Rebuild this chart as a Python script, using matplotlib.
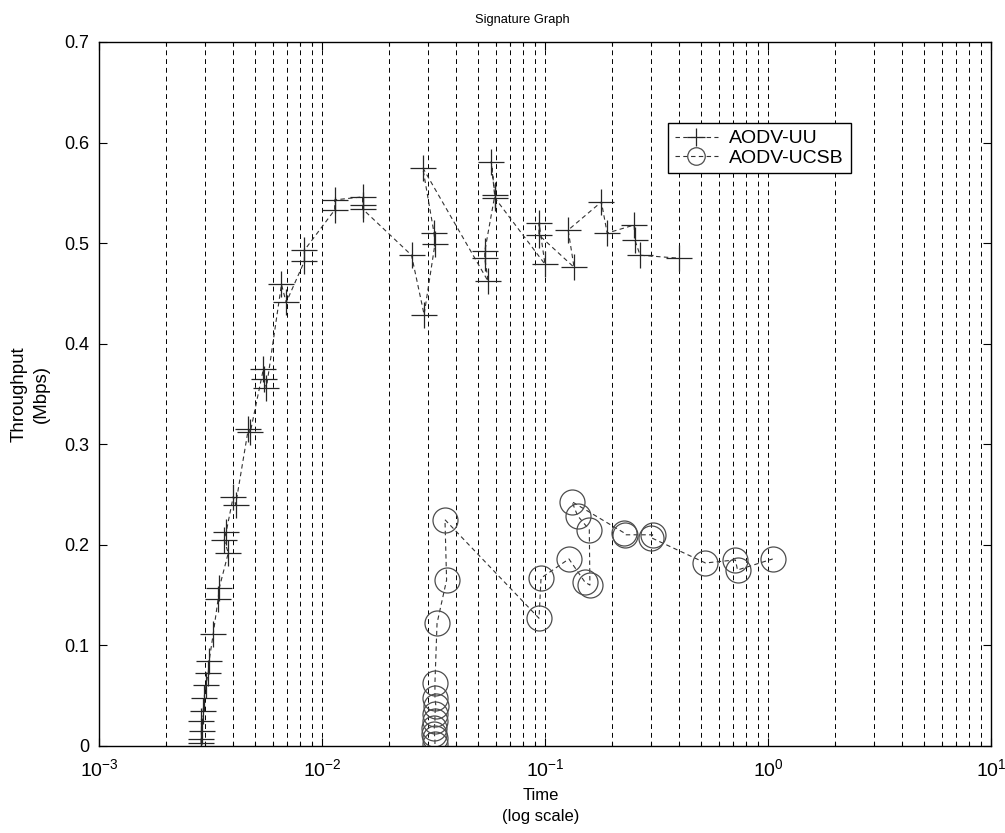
import matplotlib.pyplot as plt
from matplotlib.ticker import LogLocator, NullFormatter

plt.rcParams['font.family'] = ['Liberation Sans', 'DejaVu Sans']

# AODV-UU throughput samples, in the order they were recorded
uu_time = [2.87e-3, 2.87e-3, 2.90e-3, 2.87e-3, 2.93e-3, 2.96e-3, 3.02e-3, 3.09e-3,
           3.12e-3, 3.25e-3, 3.42e-3, 3.46e-3, 3.80e-3, 3.64e-3, 3.72e-3, 4.00e-3,
           4.10e-3, 4.67e-3, 4.77e-3, 5.46e-3, 5.51e-3, 5.63e-3, 6.58e-3, 6.91e-3,
           8.34e-3, 8.34e-3, 1.14e-2, 1.14e-2, 1.52e-2, 1.52e-2, 1.52e-2, 2.52e-2,
           2.87e-2, 3.21e-2, 3.18e-2, 2.83e-2, 5.56e-2, 5.37e-2, 5.37e-2, 5.96e-2,
           5.74e-2, 5.96e-2, 0.100, 0.094, 0.094, 0.135, 0.127, 0.179, 0.190,
           0.251, 0.253, 0.267, 0.400]
uu_tput = [0.003, 0.007, 0.015, 0.025, 0.035, 0.048, 0.061, 0.073,
           0.085, 0.111, 0.146, 0.157, 0.192, 0.205, 0.213, 0.248,
           0.240, 0.315, 0.312, 0.375, 0.365, 0.356, 0.459, 0.441,
           0.482, 0.493, 0.533, 0.543, 0.546, 0.538, 0.534, 0.488,
           0.429, 0.499, 0.510, 0.575, 0.462, 0.485, 0.492, 0.548,
           0.581, 0.545, 0.479, 0.520, 0.508, 0.476, 0.513, 0.541, 0.510,
           0.518, 0.503, 0.488, 0.485]

# AODV-UCSB throughput samples
ucsb_time = [3.21e-2, 3.21e-2, 3.19e-2, 3.19e-2, 3.21e-2, 3.21e-2, 3.24e-2, 3.21e-2,
             3.21e-2, 3.28e-2, 3.62e-2, 3.56e-2, 0.094, 0.096, 0.128, 0.151,
             0.159, 0.158, 0.140, 0.132, 0.226, 0.229, 0.304, 0.300, 0.524,
             0.714, 0.730, 1.05]
ucsb_tput = [0.002, 0.008, 0.012, 0.018, 0.025, 0.032, 0.040, 0.048,
             0.063, 0.122, 0.165, 0.225, 0.127, 0.167, 0.186, 0.163,
             0.160, 0.215, 0.229, 0.243, 0.212, 0.210, 0.210, 0.207, 0.182,
             0.185, 0.175, 0.186]

fig = plt.figure(figsize=(10.05, 8.33), dpi=100)
ax = fig.add_axes([99 / 1005, 1 - 746 / 833, 892 / 1005, 704 / 833])

ax.plot(uu_time, uu_tput, color='0.2', linestyle='--', dashes=(4, 3), linewidth=0.8,
        marker='+', markersize=19, markeredgewidth=0.9, markeredgecolor='0.15',
        label='AODV-UU')
ax.plot(ucsb_time, ucsb_tput, color='0.2', linestyle='--', dashes=(4, 3), linewidth=0.8,
        marker='o', markersize=18, markerfacecolor='none', markeredgewidth=0.9,
        markeredgecolor='0.3', label='AODV-UCSB')

ax.set_xscale('log')
ax.set_xlim(1e-3, 10)
ax.set_ylim(0, 0.7)
ax.set_yticks([0, 0.1, 0.2, 0.3, 0.4, 0.5, 0.6, 0.7])
ax.set_yticklabels(['0', '0.1', '0.2', '0.3', '0.4', '0.5', '0.6', '0.7'])
ax.xaxis.set_major_locator(LogLocator(base=10, numticks=10))
ax.xaxis.set_minor_locator(LogLocator(base=10, subs=range(2, 10), numticks=50))
ax.xaxis.set_minor_formatter(NullFormatter())

# vertical grid at every decade and sub-decade
ax.grid(True, axis='x', which='both', color='black', linestyle=(0, (5, 4)),
        linewidth=0.7)
ax.set_axisbelow(True)

ax.tick_params(which='both', direction='in', top=True, right=True, width=0.8)
ax.tick_params(which='major', length=6)
ax.tick_params(which='minor', length=3)
ax.tick_params(axis='y', labelsize=13, pad=7)
ax.tick_params(axis='x', labelsize=14, pad=9)
for s in ax.spines.values():
    s.set_linewidth(1.0)

ax.set_title('Signature Graph', fontsize=9.3, pad=14, x=0.475)
ax.set_xlabel('Time\n(log scale)', fontsize=12, linespacing=1.45)
ax.xaxis.set_label_coords(0.495, -0.06, transform=ax.transAxes)
ax.xaxis.label.set_verticalalignment('top')
ax.set_ylabel('Throughput\n(Mbps)', fontsize=13.5, linespacing=1.4, labelpad=10)

leg = ax.legend(loc='upper left', bbox_to_anchor=(0.638, 0.885), fontsize=14,
                fancybox=False, framealpha=1, edgecolor='black', handlelength=2.2,
                handletextpad=0.6, borderpad=0.35, labelspacing=0.08,
                borderaxespad=0, markerscale=0.7)
leg.get_frame().set_linewidth(1.0)

fig.savefig('out.png', dpi=100)
